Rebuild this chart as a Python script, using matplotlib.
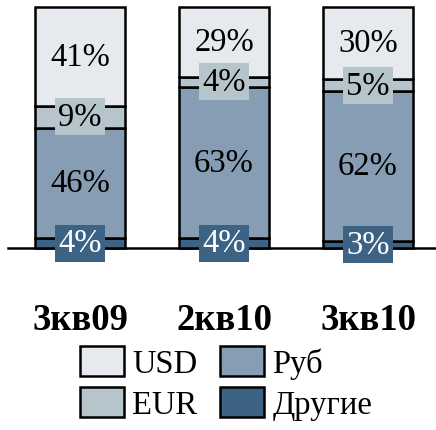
import matplotlib
matplotlib.use("Agg")
import matplotlib.pyplot as plt
from matplotlib.patches import Patch

categories = ["3кв09", "2кв10", "3кв10"]
series = ["Другие", "Руб", "EUR", "USD"]
other = [4, 4, 3]
rub = [46, 63, 62]
eur = [9, 4, 5]
usd = [41, 29, 30]
colors = {"USD": "#E6E9EE", "EUR": "#B6C5CC", "Руб": "#869DB3", "Другие": "#3D6384"}

plt.rcParams['font.family'] = ['Liberation Serif', 'DejaVu Serif']

W, H = 436, 431
fig = plt.figure(figsize=(W / 100, H / 100), dpi=100)
ax = fig.add_axes([8 / W, 1 - 249 / H, 428 / W, 241 / H])
ax.set_xlim(-0.5, -0.5 + 428 / 144)
ax.set_ylim(0, 100)

x = list(range(len(categories)))
bottoms = [0] * len(categories)
for name, vals in zip(series, [other, rub, eur, usd]):
    ax.bar(x, vals, width=0.625, bottom=bottoms, color=colors[name],
           edgecolor="black", linewidth=1.8, clip_on=False, zorder=2)
    for xi, v, b in zip(x, vals, bottoms):
        tc = "white" if name == "Другие" else "black"
        ax.text(xi, b + v / 2, f"{v}%", ha="center", va="center", fontsize=23.5,
                color=tc, zorder=5,
                bbox=dict(boxstyle="square,pad=0.1", fc=colors[name], ec="none"))
    bottoms = [b + v for b, v in zip(bottoms, vals)]

for s in ["top", "left", "right"]:
    ax.spines[s].set_visible(False)
ax.spines["bottom"].set_linewidth(1.8)
ax.spines["bottom"].set_zorder(1)
ax.set_yticks([])
ax.set_xticks(x)
ax.set_xticklabels(categories, fontsize=26.5, fontweight="bold")
ax.tick_params(axis="x", length=0, pad=39)

handles = [Patch(fc=colors[n], ec="black", lw=1.8) for n in ["USD", "EUR", "Руб", "Другие"]]
leg = fig.legend(handles, ["USD", "EUR", "Руб", "Другие"], ncol=2,
                 loc="center", bbox_to_anchor=(226 / W, 1 - 384 / H),
                 frameon=False, fontsize=23.5, handlelength=1.35, handleheight=1.05,
                 handletextpad=0.25, columnspacing=0.7, labelspacing=0.25,
                 borderpad=0, borderaxespad=0)

fig.savefig("out.png", dpi=100)
